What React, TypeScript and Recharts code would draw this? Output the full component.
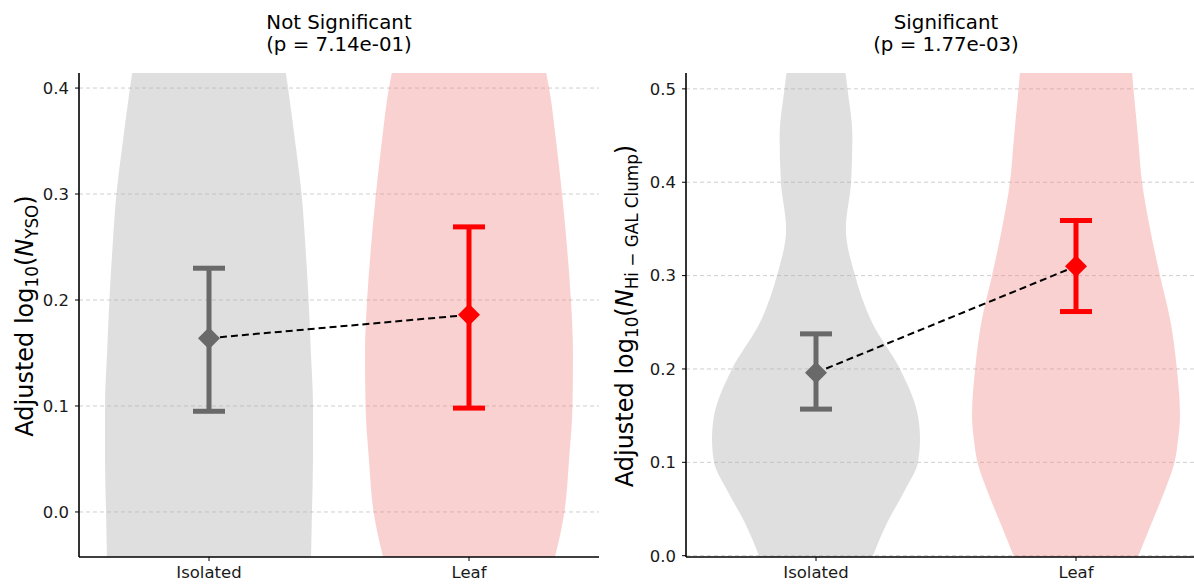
import React from 'react';
import {
  ComposedChart,
  Area,
  Scatter,
  ErrorBar,
  XAxis,
  YAxis,
  CartesianGrid,
} from 'recharts';

const FONT = '"DejaVu Sans", sans-serif';

const categories = ['Isolated', 'Leaf'];

// left panel: N_YSO
const ysoTicks = [0.0, 0.1, 0.2, 0.3, 0.4];
const ysoLevels = [-0.05, 0.0, 0.05, 0.1, 0.15, 0.2, 0.25, 0.3, 0.35, 0.4, 0.42];
const ysoIsolatedWidth = [0.392, 0.396, 0.4, 0.4, 0.392, 0.383, 0.371, 0.356, 0.331, 0.304, 0.292];
const ysoLeafWidth = [0.323, 0.367, 0.385, 0.398, 0.4, 0.392, 0.377, 0.358, 0.335, 0.308, 0.292];
const ysoMeans = [0.164, 0.186];
const ysoLower = [0.095, 0.098];
const ysoUpper = [0.23, 0.269];

// right panel: N_Hi-GAL clump
const clumpTicks = [0.0, 0.1, 0.2, 0.3, 0.4, 0.5];
const clumpLevels = [-0.01, 0.0, 0.035, 0.07, 0.1, 0.125, 0.15, 0.2, 0.25, 0.3, 0.35, 0.4, 0.45, 0.5, 0.53];
const clumpIsolatedWidth = [0.204, 0.219, 0.273, 0.342, 0.392, 0.4, 0.392, 0.323, 0.215, 0.15, 0.115, 0.135, 0.14, 0.121, 0.108];
const clumpLeafWidth = [0.225, 0.24, 0.291, 0.342, 0.379, 0.393, 0.4, 0.388, 0.364, 0.323, 0.285, 0.254, 0.238, 0.221, 0.212];
const clumpMeans = [0.196, 0.31];
const clumpLower = [0.157, 0.2615];
const clumpUpper = [0.2376, 0.359];

const groupColors = ['#696969', '#ff0000'];
const violinColors = ['#b0b0b0', '#f08080'];

const violinRows = (levels: number[], widths: number[], center: number) =>
  levels.map((v, i) => ({ v, span: [center - widths[i], center + widths[i]] }));

const meanRow = (means: number[], lower: number[], upper: number[], i: number) => ({
  x: i,
  v: means[i],
  err: [means[i] - lower[i], upper[i] - means[i]],
  color: groupColors[i],
});

const Diamond = (props: any) => {
  const { cx, cy, payload } = props;
  const s = 11;
  return (
    <polygon
      points={`${cx},${cy - s} ${cx + s},${cy} ${cx},${cy + s} ${cx - s},${cy}`}
      fill={payload.color}
    />
  );
};

const Nothing = () => <g />;

const YTitle = (props: any) => {
  const { viewBox, sub } = props;
  const bx = viewBox.x + 33;
  const cy = viewBox.y + viewBox.height / 2 + 1;
  return (
    <text
      x={bx}
      y={cy}
      transform={`rotate(-90 ${bx} ${cy})`}
      textAnchor="middle"
      fontFamily={FONT}
      fontSize={24}
      fill="#000"
    >
      <tspan>Adjusted log</tspan>
      <tspan fontSize={16.8} dy={5}>10</tspan>
      <tspan dy={-5}>(</tspan>
      <tspan fontStyle="italic">N</tspan>
      <tspan fontSize={16.8} dy={5}>{sub}</tspan>
      <tspan dy={-5}>)</tspan>
    </text>
  );
};

interface PanelProps {
  left: number;
  width: number;
  yAxisWidth: number;
  rightMargin: number;
  domain: [number, number];
  ticks: number[];
  levels: number[];
  isoWidth: number[];
  leafWidth: number[];
  means: number[];
  lower: number[];
  upper: number[];
  title: string;
  pText: string;
  sub: string;
}

const Panel: React.FC<PanelProps> = (p) => {
  const isoData = violinRows(p.levels, p.isoWidth, 0);
  const leafData = violinRows(p.levels, p.leafWidth, 1);
  const meanLine = [0, 1].map((i) => meanRow(p.means, p.lower, p.upper, i));
  const plotCenter = p.yAxisWidth + (p.width - p.yAxisWidth - p.rightMargin) / 2;

  return (
    <div style={{ position: 'absolute', left: p.left, top: 0, width: p.width, height: 587 }}>
      <div
        style={{
          position: 'absolute',
          top: 12,
          left: plotCenter - 200,
          width: 400,
          textAlign: 'center',
          fontFamily: FONT,
          fontSize: 19.8,
          lineHeight: '21.5px',
          color: '#000',
        }}
      >
        <div>{p.title}</div>
        <div>{p.pText}</div>
      </div>
      <ComposedChart
        width={p.width}
        height={587}
        layout="vertical"
        margin={{ top: 73, right: p.rightMargin, bottom: 0, left: 0 }}
        style={{ position: 'absolute', left: 0, top: 0 }}
      >
        <CartesianGrid
          horizontal={true}
          vertical={false}
          horizontalValues={p.ticks}
          stroke="#cfcfcf"
          strokeDasharray="4 3"
        />
        <XAxis
          type="number"
          dataKey="x"
          domain={[-0.5, 1.5]}
          allowDataOverflow
          ticks={[0, 1]}
          tickFormatter={(i: number) => categories[i]}
          height={30}
          tickSize={4}
          tickMargin={5}
          axisLine={{ stroke: '#000', strokeWidth: 1.6 }}
          tickLine={{ stroke: '#000' }}
          tick={{ fontSize: 16.5, fill: '#1a1a1a', fontFamily: FONT }}
        />
        <YAxis
          type="number"
          dataKey="v"
          domain={p.domain}
          allowDataOverflow
          reversed
          ticks={p.ticks}
          tickFormatter={(v: number) => v.toFixed(1)}
          width={p.yAxisWidth}
          tickSize={4}
          tickMargin={6}
          axisLine={{ stroke: '#000', strokeWidth: 1.6 }}
          tickLine={{ stroke: '#000' }}
          tick={{ fontSize: 16.5, fill: '#1a1a1a', fontFamily: FONT }}
          label={<YTitle sub={p.sub} />}
        />
        <Area
          data={isoData}
          dataKey="span"
          type="monotone"
          stroke="none"
          fill={violinColors[0]}
          fillOpacity={0.4}
          isAnimationActive={false}
        />
        <Area
          data={leafData}
          dataKey="span"
          type="monotone"
          stroke="none"
          fill={violinColors[1]}
          fillOpacity={0.36}
          isAnimationActive={false}
        />
        <Scatter
          data={meanLine}
          shape={<Nothing />}
          line={{ stroke: '#000', strokeWidth: 2, strokeDasharray: '7 4' }}
          isAnimationActive={false}
        />
        {[0, 1].map((i) => (
          <Scatter
            key={categories[i]}
            data={[meanLine[i]]}
            shape={<Diamond />}
            isAnimationActive={false}
          >
            <ErrorBar
              dataKey="err"
              direction="y"
              width={16}
              strokeWidth={5}
              stroke={groupColors[i]}
            />
          </Scatter>
        ))}
      </ComposedChart>
    </div>
  );
};

export default function App() {
  return (
    <div
      style={{
        position: 'absolute',
        left: 0,
        top: 0,
        width: 1194,
        height: 587,
        overflow: 'hidden',
        background: '#fff',
      }}
    >
      <Panel
        left={0}
        width={600}
        yAxisWidth={79}
        rightMargin={1}
        domain={[-0.0425, 0.4142]}
        ticks={ysoTicks}
        levels={ysoLevels}
        isoWidth={ysoIsolatedWidth}
        leafWidth={ysoLeafWidth}
        means={ysoMeans}
        lower={ysoLower}
        upper={ysoUpper}
        title="Not Significant"
        pText="(p = 7.14e-01)"
        sub="YSO"
      />
      <Panel
        left={600}
        width={620}
        yAxisWidth={86}
        rightMargin={14}
        domain={[-0.0014, 0.517]}
        ticks={clumpTicks}
        levels={clumpLevels}
        isoWidth={clumpIsolatedWidth}
        leafWidth={clumpLeafWidth}
        means={clumpMeans}
        lower={clumpLower}
        upper={clumpUpper}
        title="Significant"
        pText="(p = 1.77e-03)"
        sub={'Hi \u2212 GAL Clump'}
      />
    </div>
  );
}
